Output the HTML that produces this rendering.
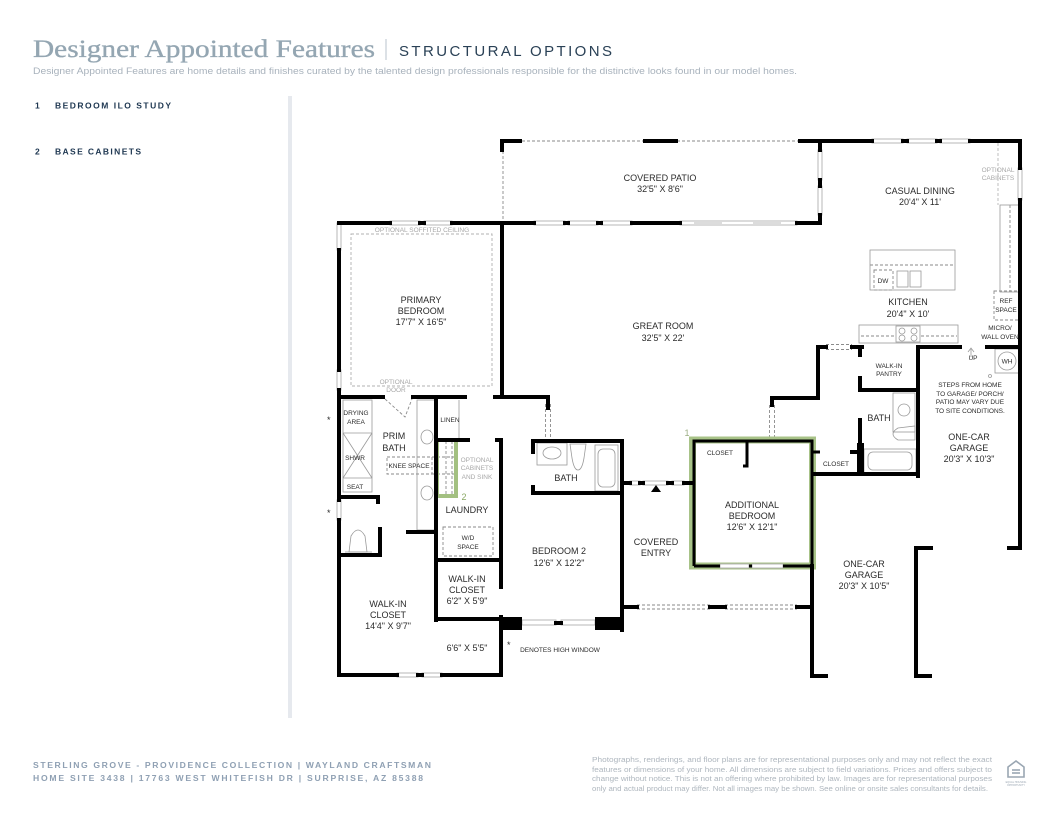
<!DOCTYPE html>
<html><head><meta charset="utf-8"><style>
html,body{margin:0;padding:0;background:#fff;width:1055px;height:815px;overflow:hidden}
svg{display:block}
text{font-family:"Liberation Sans",sans-serif}
</style></head><body>
<svg width="1055" height="815" viewBox="0 0 1055 815" xmlns="http://www.w3.org/2000/svg">
<!-- Header -->
<text x="33" y="57" font-size="25" fill="#94a6b2" stroke="#94a6b2" stroke-width="0.35" textLength="342" lengthAdjust="spacingAndGlyphs" style="font-family:'Liberation Serif',serif">Designer Appointed Features</text>
<line x1="386" y1="39" x2="386" y2="60" stroke="#b9c3cc" stroke-width="1"/>
<text x="399" y="56" font-size="15" fill="#2a4156" textLength="213" lengthAdjust="spacing">STRUCTURAL OPTIONS</text>
<text x="33" y="74" font-size="9.6" fill="#a8b2bc" textLength="764" lengthAdjust="spacingAndGlyphs">Designer Appointed Features are home details and finishes curated by the talented design professionals responsible for the distinctive looks found in our model homes.</text>
<!-- list -->
<text x="35" y="108.5" font-size="8.5" font-weight="bold" fill="#1d3650">1</text>
<text x="55" y="108.5" font-size="8.5" font-weight="bold" fill="#1d3650" textLength="116" lengthAdjust="spacing">BEDROOM ILO STUDY</text>
<text x="35" y="154.5" font-size="8.5" font-weight="bold" fill="#1d3650">2</text>
<text x="55" y="154.5" font-size="8.5" font-weight="bold" fill="#1d3650" textLength="86" lengthAdjust="spacing">BASE CABINETS</text>
<rect x="288" y="96" width="4" height="622" fill="#e6e9ee"/>

<!-- dashed -->
<g stroke="#8a8a8a" stroke-width="0.9" fill="none" stroke-dasharray="3 2">
<line x1="502" y1="141" x2="820" y2="141"/>
<line x1="503" y1="141" x2="503" y2="223"/>
<rect x="351" y="234" width="141" height="152" stroke="#b0b0b0"/>
<path d="M385 399 L405 417 L412 399"/>
<rect x="387" y="457" width="45" height="17"/>
<line x1="432" y1="457" x2="458" y2="457"/><line x1="432" y1="474" x2="458" y2="474"/>
<line x1="446" y1="441" x2="446" y2="495"/><line x1="452" y1="441" x2="452" y2="495"/>
<rect x="443" y="527" width="50" height="29"/>
<line x1="545.5" y1="404" x2="545.5" y2="440"/><line x1="550.5" y1="404" x2="550.5" y2="440"/>
<line x1="769.5" y1="405" x2="769.5" y2="437"/><line x1="774.5" y1="405" x2="774.5" y2="437"/>
<line x1="826" y1="344.5" x2="852" y2="344.5"/><line x1="826" y1="349.5" x2="852" y2="349.5"/>
<line x1="637" y1="605" x2="710" y2="605"/><line x1="637" y1="609" x2="710" y2="609"/>
<line x1="725" y1="605" x2="797" y2="605"/><line x1="725" y1="609" x2="797" y2="609"/>
<line x1="870" y1="265" x2="955" y2="265"/>
<rect x="874" y="270" width="19" height="20"/>
<line x1="861" y1="336" x2="896" y2="336"/><line x1="921" y1="336" x2="957" y2="336"/>
<rect x="994" y="291" width="25" height="29"/>
<line x1="998" y1="143" x2="998" y2="205" stroke="#b8b8b8"/>
<line x1="1010" y1="205" x2="1010" y2="292"/>
</g>

<!-- windows -->
<g fill="#fff" stroke="#b0b0b0" stroke-width="0.9">
<rect x="818" y="150" width="4" height="30"/><rect x="818" y="186" width="4" height="29"/>
<rect x="534" y="221" width="31" height="4"/><rect x="568" y="221" width="30" height="4"/><rect x="601" y="221" width="31" height="4"/>
<rect x="680" y="221" width="117" height="4"/>
<rect x="872" y="139" width="31" height="4"/><rect x="907" y="139" width="30" height="4"/><rect x="940" y="139" width="30" height="4"/>
<rect x="1018" y="168" width="4" height="32"/>
<rect x="390" y="221" width="30" height="4"/><rect x="424" y="221" width="28" height="4"/>
<rect x="337" y="223" width="4" height="27"/><rect x="337" y="370" width="4" height="20"/>
<rect x="337" y="500" width="4" height="20"/>
<rect x="397" y="673" width="21" height="4"/><rect x="422" y="673" width="20" height="4"/>
<rect x="522" y="620" width="34" height="5"/><rect x="561" y="620" width="34" height="5"/>
<rect x="630" y="481" width="10" height="4"/><rect x="643" y="481" width="25" height="4"/><rect x="672" y="481" width="12" height="4"/>
</g>
<g stroke="#c8c8c8" stroke-width="1.2"><line x1="694" y1="223" x2="722" y2="223"/><line x1="753" y1="223" x2="781" y2="223"/></g>

<!-- fixtures -->
<g fill="none" stroke="#9a9a9a" stroke-width="0.8">
<rect x="417" y="400" width="19" height="130"/>
<ellipse cx="427" cy="437" rx="6" ry="7"/><ellipse cx="427" cy="493" rx="6" ry="7"/>
<rect x="343" y="400" width="29" height="92"/>
<line x1="343" y1="433" x2="372" y2="433"/><line x1="343" y1="478" x2="372" y2="478"/>
<line x1="343" y1="433" x2="372" y2="478"/><line x1="372" y1="433" x2="343" y2="478"/>
<path d="M349 552 L351 536 Q358 524 365 536 L367 552 Z"/>
<line x1="345" y1="552" x2="372" y2="552"/>
<line x1="459" y1="400" x2="459" y2="440"/>
<rect x="537" y="443" width="30" height="22"/><ellipse cx="552" cy="453" rx="9" ry="6"/>
<path d="M570 444 L586 444 L584 458 Q582 470 578 470 Q574 470 572 458 Z"/>
<rect x="595" y="445" width="23" height="46"/><rect x="598" y="449" width="17" height="38" rx="5"/>
<rect x="893" y="393" width="22" height="39"/><circle cx="904" cy="410" r="6"/>
<path d="M915 426 L915 440 L898 440 Q888 434 898 428 Z"/>
<rect x="864" y="449" width="52" height="24"/><rect x="868" y="452" width="44" height="18" rx="5"/>
<rect x="870" y="250" width="85" height="40"/>
<rect x="897" y="271" width="11" height="16"/><rect x="910" y="271" width="11" height="16"/>
<rect x="859" y="325" width="99" height="18"/>
<rect x="896" y="326" width="24" height="16"/>
<circle cx="902" cy="331" r="3"/><circle cx="902" cy="338" r="3"/><circle cx="914" cy="331" r="3"/><circle cx="914" cy="338" r="3"/>
<rect x="1000" y="205" width="20" height="87"/>
<rect x="995" y="349" width="24" height="24"/><circle cx="1007" cy="361" r="9"/>
<circle cx="990" cy="376" r="1.5"/>
<line x1="971" y1="349" x2="971" y2="357"/><path d="M968 352 L971 348 L974 352"/>
</g>

<!-- green highlights -->
<rect x="692.5" y="440" width="120" height="126" fill="none" stroke="#a8c388" stroke-width="7"/>
<rect x="437" y="440" width="19" height="56" fill="none" stroke="#a3c081" stroke-width="4"/>
<g fill="#fff" stroke="#b0b0b0" stroke-width="0.9">
<rect x="720" y="564" width="29" height="4"/><rect x="752" y="564" width="31" height="4"/>
</g>

<!-- walls -->
<g stroke="#000" stroke-width="4" fill="none" stroke-linecap="square">
<path d="M502 150 V141 H520"/>
<path d="M645 141 H676"/>
<path d="M800 141 H872 M903 141 H907 M937 141 H940 M970 141 H1020 V168 M1020 200 V548 H1009"/>
<path d="M820 141 V150 M820 180 V186 M820 215 V223"/>
<path d="M502 223 H534 M565 223 H568 M598 223 H601 M632 223 H680 M797 223 H820"/>
<path d="M339 223 H390 M420 223 H424 M452 223 H502"/>
<path d="M339 250 V370 M339 390 V500 M339 520 V675"/>
<path d="M502 223 V397"/>
<path d="M339 397 H383 M413 397 H465 M495 397 H548 V408"/>
<path d="M339 497 H378 V502"/>
<path d="M380 529 V555 M339 555 H380 M408 532 H436"/>
<path d="M436 400 V620"/>
<path d="M436 440 H468 M497 440 H501 V587 M501 617 V675"/>
<path d="M436 560 H501 M436 619 H501"/>
<path d="M339 675 H397 M418 675 H422 M442 675 H501"/>
<path d="M533 452 V441 H622 V630 M533 487 V493 H622"/>
<path d="M556 623 H561"/>
<path d="M622 607 H637 M710 607 H725 M797 607 H812"/>
<path d="M622 483 H630 M640 483 H643 M668 483 H672 M684 483 H692"/>
<path d="M772 405 V398 H818 V347 H826 M852 347 H862 M860 347 V355 M860 378 V390 H918 M860 420 V474"/>
<path d="M815 474 H918 M918 347 V476 M918 347 H960 M987 347 H1020"/>
<path d="M852 452 H858"/>
<path d="M812 566 V676 H826 M930 676 H916 V548 H931"/>
</g>
<g stroke="#000" stroke-width="3" fill="none">
<path d="M694 566 V441 H812 V566 M694 566 H720 M749 566 H752 M783 566 H812"/>
<path d="M747 441 V466 H743"/>
<path d="M812 441 V452 H820"/>
</g>
<rect x="857" y="443" width="7" height="31" fill="#000"/>
<rect x="500" y="617" width="22" height="13" fill="#000"/>
<rect x="595" y="617" width="27" height="13" fill="#000"/>
<path d="M651 492 L656 485 L661 492 Z" fill="#000"/>

<!-- room labels -->
<g font-size="9" fill="#2b2b2b" text-anchor="middle">
<text x="660" y="181">COVERED PATIO</text><text x="660" y="192">32'5" X 8'6"</text>
<text x="920" y="194">CASUAL DINING</text><text x="920" y="205">20'4" X 11'</text>
<text x="663" y="329">GREAT ROOM</text><text x="663" y="341">32'5" X 22'</text>
<text x="908" y="305">KITCHEN</text><text x="908" y="317">20'4" X 10'</text>
<text x="421" y="303">PRIMARY</text><text x="421" y="314">BEDROOM</text><text x="421" y="325">17'7" X 16'5"</text>
<text x="394" y="439">PRIM</text><text x="394" y="451">BATH</text>
<text x="467" y="513">LAUNDRY</text>
<text x="566" y="481">BATH</text>
<text x="879" y="421">BATH</text>
<text x="559" y="554">BEDROOM 2</text><text x="559" y="566">12'6" X 12'2"</text>
<text x="656" y="545">COVERED</text><text x="656" y="556">ENTRY</text>
<text x="752" y="508">ADDITIONAL</text><text x="752" y="519">BEDROOM</text><text x="752" y="530">12'6" X 12'1"</text>
<text x="969" y="440">ONE-CAR</text><text x="969" y="451">GARAGE</text><text x="969" y="462">20'3" X 10'3"</text>
<text x="864" y="567">ONE-CAR</text><text x="864" y="578">GARAGE</text><text x="864" y="589">20'3" X 10'5"</text>
<text x="467" y="582">WALK-IN</text><text x="467" y="593">CLOSET</text><text x="467" y="604">6'2" X 5'9"</text>
<text x="388" y="607">WALK-IN</text><text x="388" y="618">CLOSET</text><text x="388" y="629">14'4" X 9'7"</text>
<text x="467" y="651">6'6" X 5'5"</text>
</g>
<g font-size="6.5" fill="#2b2b2b" text-anchor="middle">
<text x="356" y="415">DRYING</text><text x="356" y="424">AREA</text>
<text x="355" y="460">SHWR</text><text x="355" y="489">SEAT</text>
<text x="409" y="468">KNEE SPACE</text>
<text x="450" y="422">LINEN</text>
<text x="468" y="540">W/D</text><text x="468" y="549">SPACE</text>
<text x="720" y="455">CLOSET</text>
<text x="836" y="466">CLOSET</text>
<text x="889" y="368">WALK-IN</text><text x="889" y="376">PANTRY</text>
<text x="973" y="360">UP</text>
<text x="1007" y="363.5">WH</text>
<text x="970" y="387">STEPS FROM HOME</text><text x="970" y="396">TO GARAGE/ PORCH/</text><text x="970" y="404">PATIO MAY VARY DUE</text><text x="970" y="413">TO SITE CONDITIONS.</text>
<text x="883" y="283">DW</text>
<text x="1006" y="303">REF</text><text x="1006" y="312">SPACE</text>
<text x="1000" y="330">MICRO/</text><text x="1000" y="339">WALL OVEN</text>
<text x="560" y="652">DENOTES HIGH WINDOW</text>
</g>
<g font-size="6.5" fill="#a8a8a8" text-anchor="middle">
<text x="422" y="232">OPTIONAL SOFFITED CEILING</text>
<text x="396" y="384">OPTIONAL</text><text x="396" y="392">DOOR</text>
<text x="477" y="462">OPTIONAL</text><text x="477" y="470">CABINETS</text><text x="477" y="479">AND SINK</text>
<text x="998" y="172">OPTIONAL</text><text x="998" y="180">CABINETS</text>
</g>
<g font-size="9" fill="#2b2b2b"><text x="327" y="423">*</text><text x="327" y="516">*</text><text x="507" y="648">*</text></g>
<text x="464" y="500" font-size="9" fill="#8aa864" text-anchor="middle">2</text>
<text x="687" y="436" font-size="9" fill="#9cae84" text-anchor="middle">1</text>

<!-- footer -->
<text x="33" y="768" font-size="8.6" font-weight="bold" fill="#8fa0b3" textLength="398" lengthAdjust="spacing">STERLING GROVE - PROVIDENCE COLLECTION  |  WAYLAND CRAFTSMAN</text>
<text x="33" y="781" font-size="8.6" font-weight="bold" fill="#8fa0b3" textLength="390" lengthAdjust="spacing">HOME SITE 3438  |  17763 WEST WHITEFISH DR  |  SURPRISE, AZ 85388</text>
<g font-size="7" fill="#aeb6be">
<text x="592" y="762" textLength="400" lengthAdjust="spacingAndGlyphs">Photographs, renderings, and floor plans are for representational purposes only and may not reflect the exact</text>
<text x="592" y="772" textLength="400" lengthAdjust="spacingAndGlyphs">features or dimensions of your home. All dimensions are subject to field variations. Prices and offers subject to</text>
<text x="592" y="781" textLength="400" lengthAdjust="spacingAndGlyphs">change without notice. This is not an offering where prohibited by law. Images are for representational purposes</text>
<text x="592" y="791" textLength="396" lengthAdjust="spacingAndGlyphs">only and actual product may differ. Not all images may be shown. See online or onsite sales consultants for details.</text>
</g>
<g fill="none" stroke="#9aa6b2" stroke-width="1.6">
<path d="M1008 767 L1016 761 L1024 767 V777 H1008 Z"/>
<line x1="1012" y1="770" x2="1020" y2="770"/><line x1="1012" y1="773" x2="1020" y2="773"/>
</g>
<text x="1016" y="783" font-size="2.5" fill="#9aa6b2" text-anchor="middle">EQUAL HOUSING</text>
<text x="1016" y="786" font-size="2.5" fill="#9aa6b2" text-anchor="middle">OPPORTUNITY</text>
</svg>
</body></html>
